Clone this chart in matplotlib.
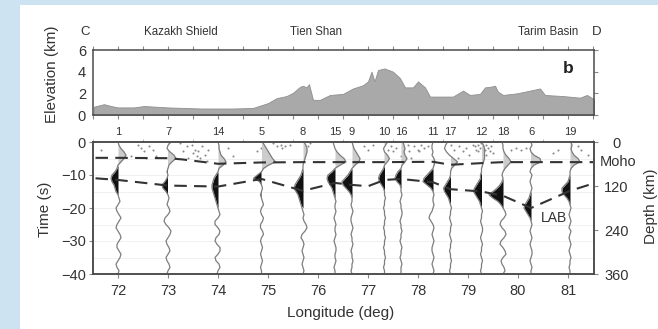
import numpy as np
import matplotlib.pyplot as plt
import matplotlib.transforms as mtransforms
from matplotlib.patches import Rectangle

plt.rcParams['font.family'] = ['Liberation Sans', 'DejaVu Sans']

# elevation along profile C-D
elev_lon = [71.52, 71.72, 71.86, 72.0, 72.32, 72.52, 73.0, 73.66, 74.3, 74.7, 75.0, 75.17,
            75.37, 75.5, 75.64, 75.7, 75.77, 75.82, 75.9, 76.04, 76.24, 76.5, 76.7, 76.9,
            77.0, 77.07, 77.13, 77.2, 77.33, 77.5, 77.64, 77.74, 77.9, 78.0, 78.14, 78.24,
            78.44, 78.7, 78.9, 79.04, 79.24, 79.34, 79.44, 79.54, 79.6, 79.7, 79.98, 80.24,
            80.44, 80.54, 80.9, 81.24, 81.38, 81.52]
elev_km = [0.77, 1.0, 0.83, 0.7, 0.7, 0.83, 0.7, 0.6, 0.6, 0.65, 1.1, 1.55,
           1.75, 2.05, 2.6, 2.7, 2.55, 2.85, 1.4, 1.4, 1.85, 1.95, 2.45, 2.75,
           3.1, 4.0, 3.1, 4.15, 4.3, 4.0, 3.4, 2.55, 2.55, 3.1, 2.55, 1.7,
           1.7, 1.7, 2.25, 1.85, 1.95, 2.55, 2.6, 2.7, 2.15, 1.85, 2.0, 2.25,
           2.45, 1.85, 1.75, 1.6, 1.85, 1.45]

region_names = ['C', 'Kazakh Shield', 'Tien Shan', 'Tarim Basin', 'D']
region_lon = [71.34, 73.26, 75.96, 80.6, 81.57]

# stations (receiver-function stacks)
station_ids = ['1', '7', '14', '5', '8', '15', '9', '10', '16', '11', '17', '12', '18', '6', '19']
station_lon = [72.0, 73.0, 74.0, 74.87, 75.7, 76.34, 76.68, 77.33, 77.66, 78.3, 78.65,
               79.27, 79.7, 80.26, 81.04]
lab_pick = [-11.0, -13.4, -14.0, -11.0, -14.0, -11.0, -12.5, -11.0, -11.0, -12.0, -14.5,
            -14.8, -16.5, -20.0, -14.8]

rf_time = np.arange(0, -41, -1)
rf_amp = [
    [0, 1, 3, 6, 8, 6, 3, 0, -1, -3, -6, -7, -6, -4, -3, -2, 0, 1, 2, 0, -2, -1, 1, 3, 1, -1, -2, 0, 2, 3, 1, -1, -1, 1, 3, 2, 0, -2, -1, 1, 0],
    [3, 0, -1, 2, 6, 8, 4, 1, 0, -1, 0, -1, -3, -6, -5, -2, 0, 1, 0, -1, 1, 2, 0, -3, -4, -2, 1, 3, 2, 0, -2, -1, 1, 2, 0, -2, -1, 1, 2, 0, -1],
    [0, 1, 1, 2, 3, 6, 8, 5, 1, 0, -2, -4, -5, -6, -6, -5, -4, -3, -2, -1, 0, 1, 2, 0, -3, -3, 0, 2, 1, -2, -3, -1, 2, 2, 0, -3, -2, 1, 2, 0, -1],
    [1, 3, 5, 7, 9, 11, 14, 7, 2, 0, -4, -8, -2, 0, 1, 0, -1, 0, 1, 2, 0, -1, 0, 2, 1, -1, -1, 1, 2, 0, -1, 0, 1, 0, -1, 0, 1, 0, -1, 0, 0],
    [1, 3, 4, 4, 3, 2, 1, 0, 0, -1, -2, -4, -6, -8, -9, -7, -5, -4, -3, -2, -1, 0, 1, 0, 1, 3, 4, 2, -1, -2, 0, 1, 0, -1, 0, 1, 0, -1, 0, 1, 0],
    [-2, -1, 0, 2, 5, 9, 11, 5, 0, -3, -7, -8, -7, -5, -3, -2, -1, 0, 1, 0, 0, 1, 0, -1, 0, 1, 0, 0, 1, 0, -1, 0, 1, 1, 0, 0, 1, 0, -1, 0, 0],
    [0, 1, 2, 4, 6, 8, 7, 3, 0, -2, -4, -7, -10, -9, -6, -3, -1, 0, 0, -1, 0, 1, 0, -1, -1, 0, 1, 0, -1, 0, 0, 1, 0, -1, 0, 0, 1, 0, 0, -1, 0],
    [3, 1, -1, 0, 3, 5, 3, 0, -1, -3, -5, -6, -5, -3, -1, 0, 0, 1, 0, 0, -1, 0, 0, 1, 0, 0, -1, 0, 0, 1, 0, 0, -1, 0, 0, 1, 0, 0, -1, 0, 0],
    [2, 3, 4, 3, 4, 6, 4, 1, 0, -3, -5, -6, -4, -1, 0, 0, 1, 0, -1, 0, 0, 1, 1, 0, -1, 0, 0, 1, 0, 0, -1, 0, 1, 0, 0, -1, 0, 1, 0, 0, 0],
    [0, -1, -1, 0, -1, 1, 2, 1, 0, -3, -6, -9, -10, -6, -2, 0, 1, 0, 0, 1, 0, -1, -3, -4, -2, 0, 1, 0, -1, 0, 1, 0, -1, -1, 0, 1, 0, -1, 0, 1, 0],
    [-3, -5, -6, -4, -1, 3, 7, 4, 1, 0, 0, -1, -3, -5, -7, -6, -4, -2, -1, 0, 1, 0, 0, -1, 0, 1, 0, 0, -1, 0, 1, 0, 0, -1, 0, 0, 1, 0, 0, -1, 0],
    [0, 2, 3, 3, 3, 3, 2, 1, 0, 0, -1, -1, -3, -5, -7, -8, -6, -4, -2, -1, 0, 1, 0, 0, -1, 0, 1, 1, 0, -1, 0, 1, 0, 0, -1, 0, 1, 0, 0, -1, 0],
    [-1, 0, 0, 1, 3, 6, 8, 5, 2, 0, -1, 0, -1, -3, -6, -10, -14, -10, -5, -2, 0, 2, 3, 1, -2, -3, -1, 2, 3, 1, -2, -3, 0, 2, 3, 0, -2, -1, 1, 2, 0],
    [0, 1, -1, 0, 3, 9, 10, 3, 0, -1, 1, 0, -1, 0, 1, 0, -1, -2, -4, -6, -7, -5, -3, -1, 0, 1, 0, -1, 0, 1, 0, -1, 0, 1, 1, 0, -1, 0, 1, 0, 0],
    [1, 2, 1, 2, 4, 8, 10, 4, 1, 0, 0, -1, -2, -5, -8, -8, -6, -3, -1, 0, 1, 0, -1, 0, 1, 0, -1, 1, 0, -1, 0, 1, 0, -1, 0, 1, 0, 0, -1, 0, 0],
]
gain = 0.02  # deg of longitude per amplitude unit

# interface picks
moho_lon = [71.55, 72.0, 73.0, 73.3, 74.0, 74.87, 75.7, 76.34, 77.33, 78.3, 78.65, 79.27,
            79.7, 80.26, 81.04, 81.5]
moho_t = [-4.8, -4.8, -4.9, -5.3, -6.6, -6.2, -6.1, -6.1, -6.1, -6.0, -6.9, -6.4,
          -6.1, -6.1, -6.1, -6.1]
lab_lon = [71.55, 72.0, 73.0, 74.0, 74.87, 75.7, 76.34, 76.68, 77.0, 77.33, 77.66, 78.3,
           78.65, 79.27, 79.7, 80.26, 81.04, 81.5]
lab_t = [-11.0, -11.5, -13.2, -13.5, -11.2, -14.8, -12.4, -13.0, -13.4, -11.5, -11.2, -12.2,
         -14.3, -15.0, -16.3, -20.0, -14.8, -12.6]

# seismicity
eq_lon = [71.66, 72.4, 72.46, 72.52, 72.62, 72.7, 72.26, 72.76, 72.56,
          73.24, 73.37, 73.47, 73.53, 73.6, 73.67, 73.73, 73.79, 73.57, 73.29, 73.39, 73.63, 73.77, 73.49,
          74.3, 74.2, 74.77, 75.1, 75.17, 75.25, 75.27, 74.85,
          75.33, 75.43, 75.79, 75.83,
          76.92, 77.0, 77.1, 77.4, 77.46, 77.5, 77.56, 77.66, 77.8, 77.82, 77.86,
          77.92, 78.0, 78.06, 78.12, 78.2, 78.02, 78.66, 78.72, 78.82, 78.9, 78.96, 79.02, 79.1, 79.16, 78.8,
          79.14, 79.2, 79.24, 79.26, 79.3, 79.34, 79.36, 79.4, 79.44, 79.46, 79.5, 79.3, 79.2, 79.36,
          79.86, 79.96, 80.06, 80.16, 80.69, 80.79, 81.19, 81.25, 81.39]
eq_t = [-2.4, -0.9, -1.8, -2.7, -1.2, -2.4, -4.2, -4.2, -4.8,
        -0.3, -1.2, -0.9, -2.4, -2.7, -1.2, -3.9, -2.4, -4.2, -2.7, -4.8, -4.8, -5.7, -3.3,
        -4.2, -1.8, -2.7, -0.3, -1.2, -0.9, -1.8, -1.8,
        -1.2, -0.9, -1.2, -0.3,
        -1.2, -2.4, -0.9, -2.4, -1.2, -2.7, -1.8, -4.2, -0.9, -2.7, -4.8,
        -1.2, -2.4, -0.9, -1.8, -1.2, -2.7, -0.9, -2.4, -1.2, -2.7, -1.8, -3.9, -0.9, -2.4, -4.8,
        -1.2, -0.9, -1.8, -0.3, -1.2, -2.4, -0.9, -1.8, -2.7, -1.2, -3.3, -3.3, -2.7, -3.9,
        -2.4, -1.8, -2.4, -1.8, -3.3, -2.4, -1.2, -2.4, -3.9]

frame = '#4a4a4a'
txt = '#333333'

fig = plt.figure(figsize=(6.58, 3.29), dpi=100)
fig.patch.set_facecolor('#cde3f1')
fig.patches.append(Rectangle((20 / 658, 0), 1, 1 - 5 / 329, transform=fig.transFigure,
                             facecolor='white', edgecolor='none', zorder=-5))

ax_top = fig.add_axes([93 / 658, 1 - 115 / 329, 501 / 658, 65 / 329])
ax = fig.add_axes([93 / 658, 1 - 274 / 329, 501 / 658, 132 / 329])

# elevation panel
ax_top.fill_between(elev_lon, 0, elev_km, color='#a9a9a9', edgecolor='#8f8f8f', lw=0.6)
ax_top.set_xlim(71.5, 81.52)
ax_top.set_ylim(0, 6)
ax_top.set_yticks([0, 2, 4, 6])
ax_top.set_xticks(np.arange(71.5, 81.6, 0.5))
ax_top.tick_params(axis='x', which='both', top=True, bottom=True, labelbottom=False,
                   direction='out', length=3, color='#888888')
ax_top.tick_params(axis='y', left=False, right=True, direction='out', length=3, pad=2,
                   labelsize=10.5, labelcolor=txt, color='#888888')
ax_top.set_ylabel('Elevation (km)', fontsize=11, color=txt)
ax_top.yaxis.set_label_coords(-0.068, 0.62)
ax_top.text(0.948, 0.72, 'b', transform=ax_top.transAxes, fontsize=12.5, fontweight='bold',
            ha='center', va='center', color='#222222')
for name, lon in zip(region_names, region_lon):
    ax_top.text(lon, 1.27, name, transform=ax_top.get_xaxis_transform(), ha='center',
                va='center', fontsize=8.3 if len(name) > 1 else 9.5, color=txt)

# receiver function panel
ax.set_xlim(71.5, 81.52)
ax.set_ylim(-40, 0)
for yy in np.arange(-35, 0, 5):
    ax.axhline(yy, color='#eeeeee', lw=0.6, zorder=0)

ax.scatter(eq_lon, eq_t, s=2.2, color='#8a8a8a', lw=0, zorder=1)

for sid, lon, amp, pick in zip(station_ids, station_lon, rf_amp, lab_pick):
    a = np.array(amp, dtype=float) * gain
    x = lon + a
    ax.fill_betweenx(rf_time, lon, x, where=(a > 0) & (rf_time >= -8.5), interpolate=True,
                     color='#cccccc', lw=0, zorder=2)
    ax.fill_betweenx(rf_time, lon, x, where=(a < 0) & (np.abs(rf_time - pick) <= 5),
                     interpolate=True, color='#111111', lw=0, zorder=2)
    ax.plot(x, rf_time, color='#7d7d7d', lw=0.9, zorder=3)
    ax.text(lon, 1.075, sid, transform=ax.get_xaxis_transform(), ha='center', va='center',
            fontsize=8, color=txt)

moho_line, = ax.plot(moho_lon, moho_t, color='#333333', lw=1.5, zorder=4)
moho_line.set_dashes([6, 3.5])
lab_line, = ax.plot(lab_lon, lab_t, color='#333333', lw=1.5, zorder=4)
lab_line.set_dashes([6, 3.5])
ax.text(80.72, -23, 'LAB', fontsize=10, color=txt, ha='center', va='center', zorder=5)

ax.set_xticks(range(72, 82))
ax.set_xticks(np.arange(71.5, 81.6, 0.5), minor=True)
ax.set_yticks([0, -10, -20, -30, -40])
ax.tick_params(axis='x', which='major', direction='out', length=3, labelsize=10.5,
               labelcolor=txt, color='#888888', pad=4)
ax.tick_params(axis='x', which='minor', top=True, bottom=False, direction='out', length=2,
               color='#aaaaaa')
ax.tick_params(axis='y', direction='out', length=3, labelsize=10.5, labelcolor=txt,
               color='#888888', pad=2)
ax.set_xlabel('Longitude (deg)', fontsize=11, color=txt)
ax.xaxis.set_label_coords(0.495, -0.24)
ax.set_ylabel('Time (s)', fontsize=11, color=txt)
ax.yaxis.set_label_coords(-0.082, 0.49)

depth = ax.twinx()
depth.set_ylim(360, 0)
depth.set_yticks([0, 120, 240, 360])
depth.tick_params(axis='y', direction='out', length=3, labelsize=10.5, labelcolor=txt,
                  color='#888888', pad=13)
for lbl in depth.get_yticklabels():
    lbl.set_horizontalalignment('center')
depth.set_ylabel('Depth (km)', fontsize=11, color=txt)
depth.yaxis.set_label_coords(1.1, 0.51)
trans = mtransforms.blended_transform_factory(ax.transAxes, ax.transData)
ax.text(1.048, -6.1, 'Moho', transform=trans, fontsize=10.5, color=txt, ha='center',
        va='center')

for a_ in (ax_top, ax, depth):
    for sp in a_.spines.values():
        sp.set_color(frame)
        sp.set_linewidth(1.1)

fig.savefig('out.png', dpi=100, facecolor=fig.get_facecolor())
